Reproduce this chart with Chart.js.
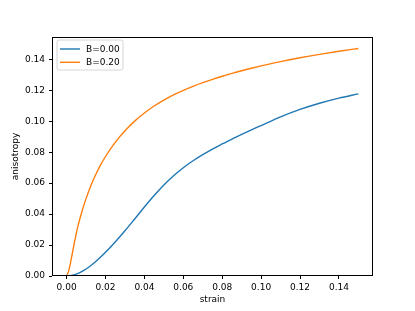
<!DOCTYPE html>
<html>
<head>
<meta charset="utf-8">
<script src="https://cdn.jsdelivr.net/npm/chart.js@4.4.0/dist/chart.umd.min.js"></script>
<style>
html,body{margin:0;padding:0;background:#fff;}
#wrap{width:415px;height:311px;}
</style>
</head>
<body>
<div id="wrap"><canvas id="c" width="415" height="311"></canvas></div>
<script>
const seriesNames = ["B=0.00", "B=0.20"];
const strainB000 = [0, 0.0025, 0.005, 0.0075, 0.01, 0.0125, 0.015, 0.0175, 0.02, 0.025, 0.03, 0.035, 0.04, 0.045, 0.05, 0.055, 0.06, 0.065, 0.07, 0.075, 0.08, 0.085, 0.09, 0.095, 0.10, 0.11, 0.12, 0.13, 0.14, 0.15];
const anisoB000 = [0, 0.0003, 0.0012, 0.0026, 0.0045, 0.0068, 0.0094, 0.01225, 0.0153, 0.0220, 0.02925, 0.03685, 0.04455, 0.05195, 0.05875, 0.06475, 0.06995, 0.07445, 0.0784, 0.0820, 0.0853, 0.0885, 0.0915, 0.0944, 0.0972, 0.1028, 0.1076, 0.1116, 0.1149, 0.1177];
const strainB020 = [0, 0.001, 0.002, 0.003, 0.004, 0.005, 0.006, 0.008, 0.01, 0.0125, 0.015, 0.0175, 0.02, 0.025, 0.03, 0.035, 0.04, 0.045, 0.05, 0.055, 0.06, 0.065, 0.07, 0.075, 0.08, 0.085, 0.09, 0.095, 0.10, 0.11, 0.12, 0.13, 0.14, 0.15];
const anisoB020 = [0, 0.0030, 0.0085, 0.0150, 0.0215, 0.0275, 0.0330, 0.0422, 0.0500, 0.0585, 0.0656, 0.0718, 0.0772, 0.0863, 0.0938, 0.10005, 0.1053, 0.1098, 0.11365, 0.1170, 0.11995, 0.12255, 0.1249, 0.12705, 0.12905, 0.1309, 0.13263, 0.13423, 0.13573, 0.13853, 0.14098, 0.14318, 0.14518, 0.14698];
const xTicks = [0.00, 0.02, 0.04, 0.06, 0.08, 0.10, 0.12, 0.14];
const yTicks = [0.00, 0.02, 0.04, 0.06, 0.08, 0.10, 0.12, 0.14];
const colors = ["#1f77b4", "#ff7f0e"];

const toPts = (xs, ys) => xs.map((x, i) => ({x: x, y: ys[i]}));
const FONT = "DejaVu Sans";

const framePlugin = {
  id: 'frameLegend',
  afterDraw(chart) {
    const ctx = chart.ctx, a = chart.chartArea;
    ctx.save();
    ctx.strokeStyle = '#000';
    ctx.lineWidth = 1;
    ctx.strokeRect(Math.round(a.left) + 0.5, Math.round(a.top) + 0.5, Math.round(a.right - a.left) - 1, Math.round(a.bottom - a.top) - 1);
    // legend
    const lx = a.left + 5, ly = a.top + 3, lw = 66, lh = 30;
    ctx.beginPath();
    const r = 2;
    ctx.moveTo(lx + r, ly);
    ctx.arcTo(lx + lw, ly, lx + lw, ly + lh, r);
    ctx.arcTo(lx + lw, ly + lh, lx, ly + lh, r);
    ctx.arcTo(lx, ly + lh, lx, ly, r);
    ctx.arcTo(lx, ly, lx + lw, ly, r);
    ctx.closePath();
    ctx.fillStyle = 'rgba(255,255,255,0.8)';
    ctx.fill();
    ctx.strokeStyle = '#d6d6d6';
    ctx.lineWidth = 1;
    ctx.stroke();
    ctx.font = '9px "' + FONT + '"';
    ctx.textBaseline = 'middle';
    ctx.textAlign = 'left';
    chart.data.datasets.forEach((ds, i) => {
      const yy = ly + 9 + i * 13.3;
      ctx.strokeStyle = ds.borderColor;
      ctx.lineWidth = 1.4;
      ctx.beginPath();
      ctx.moveTo(lx + 3, yy);
      ctx.lineTo(lx + 23, yy);
      ctx.stroke();
      ctx.fillStyle = '#000';
      ctx.fillText(ds.label, lx + 29, yy + 0.5);
    });
    ctx.restore();
  }
};

new Chart(document.getElementById('c'), {
  type: 'line',
  data: {
    datasets: [
      {label: seriesNames[0], data: toPts(strainB000, anisoB000), borderColor: colors[0], backgroundColor: colors[0], borderWidth: 1.4, pointRadius: 0, fill: false, cubicInterpolationMode: 'monotone'},
      {label: seriesNames[1], data: toPts(strainB020, anisoB020), borderColor: colors[1], backgroundColor: colors[1], borderWidth: 1.4, pointRadius: 0, fill: false, cubicInterpolationMode: 'monotone'}
    ]
  },
  options: {
    responsive: false,
    animation: false,
    layout: {padding: {left: 0, top: 37, right: 42, bottom: 0}},
    plugins: {legend: {display: false}, tooltip: {enabled: false}},
    scales: {
      x: {
        type: 'linear',
        min: -0.0075,
        max: 0.1575,
        afterBuildTicks: s => { s.ticks = xTicks.map(v => ({value: v})); },
        afterFit: s => { s.height = 35; },
        grid: {display: true, drawOnChartArea: false, drawTicks: true, tickLength: 3, tickColor: '#000', color: '#000'},
        border: {display: false},
        ticks: {color: '#000', font: {family: FONT, size: 9}, padding: 3, maxRotation: 0, callback: v => v.toFixed(2)},
        title: {display: true, text: 'strain', color: '#000', font: {family: FONT, size: 9}, padding: {top: 1, bottom: 6}}
      },
      y: {
        type: 'linear',
        min: 0,
        max: 0.1544,
        afterBuildTicks: s => { s.ticks = yTicks.map(v => ({value: v})); },
        afterFit: s => { s.width = 52; },
        grid: {display: true, drawOnChartArea: false, drawTicks: true, tickLength: 3, tickColor: '#000', color: '#000'},
        border: {display: false},
        ticks: {color: '#000', font: {family: FONT, size: 9}, padding: 4, callback: v => v.toFixed(2)},
        title: {display: true, text: 'anisotropy', color: '#000', font: {family: FONT, size: 9}, padding: {top: 10.5, bottom: 0}}
      }
    }
  },
  plugins: [framePlugin]
});
</script>
</body>
</html>
